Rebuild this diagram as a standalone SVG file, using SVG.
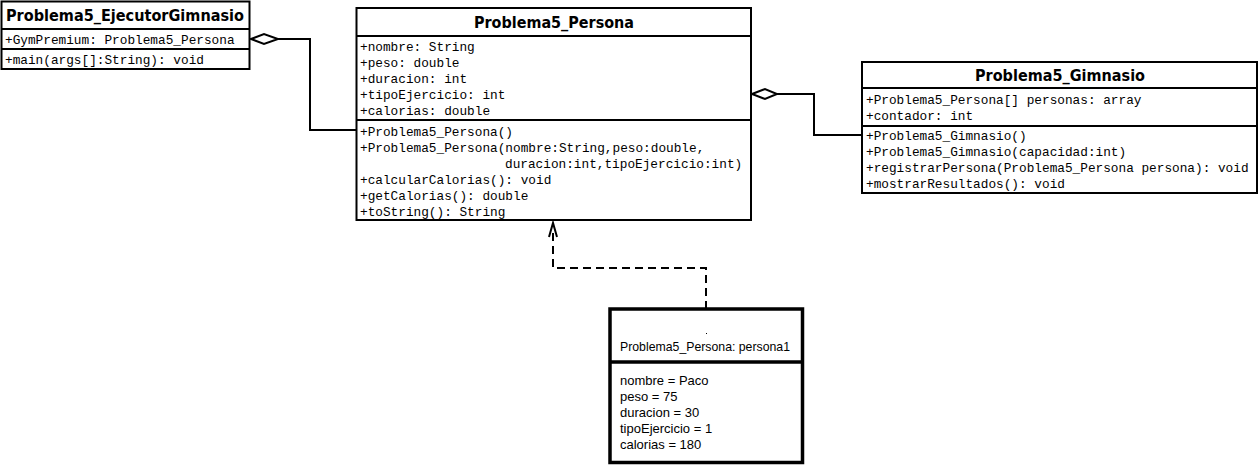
<svg xmlns="http://www.w3.org/2000/svg" width="1259" height="466" viewBox="0 0 1259 466">
<style>
.box{fill:#fff;stroke:#000;stroke-width:2}
.obj{fill:#fff;stroke:#000;stroke-width:3.5}
.div{stroke:#000;stroke-width:2}
.title{font-family:Tahoma,"DejaVu Sans","Liberation Sans",sans-serif;font-weight:bold;font-size:15.5px;text-anchor:middle;fill:#000}
.mono{font-family:"Liberation Mono","Courier New",monospace;font-size:12.75px;fill:#000}
.sans{font-family:"Liberation Sans",Arial,sans-serif;font-size:13px;fill:#000}
.conn{fill:none;stroke:#000;stroke-width:2}
.dash{fill:none;stroke:#000;stroke-width:2;stroke-dasharray:8 5}
.dia{fill:#fff;stroke:#000;stroke-width:2}
</style>
<rect width="1259" height="466" fill="#fff"/>
<g id="connectors">
<polyline class="conn" points="278,39 310,39 310,130 357,130"/>
<polygon class="dia" points="251,39 264,34 278,39 264,44"/>
<polyline class="conn" points="777,94 814,94 814,135 862,135"/>
<polygon class="dia" points="752,94 765,89 777,94 765,99"/>
<polyline class="dash" points="706,309 706,268 553,268 553,228"/>
<polyline class="conn" points="549,237 553,223 557,237"/>
</g>
<g id="ejecutor">
<rect class="box" x="1.5" y="1.5" width="248" height="67.5"/>
<line class="div" x1="1.5" y1="29" x2="249.5" y2="29"/>
<line class="div" x1="1.5" y1="49" x2="249.5" y2="49"/>
<text class="title" x="125" y="21" textLength="238" lengthAdjust="spacingAndGlyphs">Problema5_EjecutorGimnasio</text>
<text class="mono" x="5" y="44">+GymPremium: Problema5_Persona</text>
<text class="mono" x="5" y="64">+main(args[]:String): void</text>
</g>
<g id="persona">
<rect class="box" x="356.5" y="8" width="394.5" height="212"/>
<line class="div" x1="356.5" y1="36" x2="751" y2="36"/>
<line class="div" x1="356.5" y1="120" x2="751" y2="120"/>
<text class="title" x="554" y="28" textLength="160" lengthAdjust="spacingAndGlyphs">Problema5_Persona</text>
<text class="mono" x="360" y="51">+nombre: String</text>
<text class="mono" x="360" y="67">+peso: double</text>
<text class="mono" x="360" y="83">+duracion: int</text>
<text class="mono" x="360" y="99">+tipoEjercicio: int</text>
<text class="mono" x="360" y="115">+calorias: double</text>
<text class="mono" x="360" y="136">+Problema5_Persona()</text>
<text class="mono" x="360" y="152">+Problema5_Persona(nombre:String,peso:double,</text>
<text class="mono" x="505" y="168">duracion:int,tipoEjercicio:int)</text>
<text class="mono" x="360" y="184">+calcularCalorias(): void</text>
<text class="mono" x="360" y="200">+getCalorias(): double</text>
<text class="mono" x="360" y="216">+toString(): String</text>
</g>
<g id="gimnasio">
<rect class="box" x="862" y="62" width="395" height="131"/>
<line class="div" x1="862" y1="88" x2="1257" y2="88"/>
<line class="div" x1="862" y1="126" x2="1257" y2="126"/>
<text class="title" x="1060" y="81" textLength="170" lengthAdjust="spacingAndGlyphs">Problema5_Gimnasio</text>
<text class="mono" x="866" y="104">+Problema5_Persona[] personas: array</text>
<text class="mono" x="866" y="120">+contador: int</text>
<text class="mono" x="866" y="140">+Problema5_Gimnasio()</text>
<text class="mono" x="866" y="156">+Problema5_Gimnasio(capacidad:int)</text>
<text class="mono" x="866" y="172">+registrarPersona(Problema5_Persona persona): void</text>
<text class="mono" x="866" y="188">+mostrarResultados(): void</text>
</g>
<g id="persona1">
<rect class="obj" x="610" y="309" width="192.5" height="153.5"/>
<line class="obj" x1="610" y1="362" x2="802.5" y2="362"/>
<rect x="706" y="333" width="1" height="1" fill="#000"/>
<text class="sans" x="620" y="351" textLength="170" lengthAdjust="spacingAndGlyphs">Problema5_Persona: persona1</text>
<text class="sans" x="620" y="385">nombre = Paco</text>
<text class="sans" x="620" y="401">peso = 75</text>
<text class="sans" x="620" y="417">duracion = 30</text>
<text class="sans" x="620" y="433">tipoEjercicio = 1</text>
<text class="sans" x="620" y="449">calorias = 180</text>
</g>
</svg>
